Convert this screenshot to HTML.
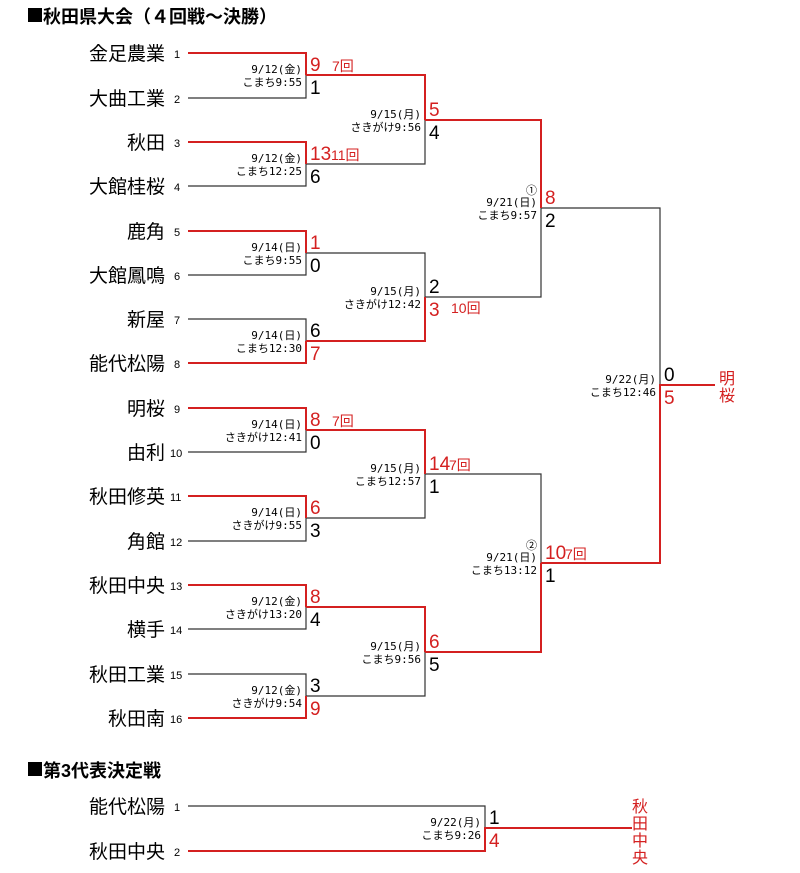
<!DOCTYPE html>
<html><head><meta charset="utf-8"><style>
body{margin:0;background:#fff;}
svg{display:block;font-family:"Liberation Sans","Noto Sans CJK JP",sans-serif;}
.tm{font-size:19px;text-anchor:end;fill:#000}
.no{font-size:11px;fill:#000}
.dt{font-size:11px;text-anchor:end;fill:#000;font-family:"DejaVu Sans Mono","Noto Sans CJK JP",monospace}
.s{font-size:19px;fill:#000}
.r{fill:#d42020}
.inn{font-size:14px;fill:#d42020}
.b{stroke:#333;stroke-width:1.2;fill:none}
.rd{stroke:#d42020;stroke-width:2;fill:none}
.h{font-size:18px;font-weight:bold;fill:#000}
</style></head><body>
<svg width="800" height="873" viewBox="0 0 800 873">
<rect x="28" y="8" width="14" height="14" fill="#000"/>
<text x="43" y="23" class="h">秋田県大会（４回戦～決勝）</text>
<g>
<text x="165" y="60" class="tm">金足農業</text><text x="174" y="58" class="no">1</text>
<text x="165" y="105" class="tm">大曲工業</text><text x="174" y="103" class="no">2</text>
<text x="165" y="149" class="tm">秋田</text><text x="174" y="147" class="no">3</text>
<text x="165" y="193" class="tm">大館桂桜</text><text x="174" y="191" class="no">4</text>
<text x="165" y="238" class="tm">鹿角</text><text x="174" y="236" class="no">5</text>
<text x="165" y="282" class="tm">大館鳳鳴</text><text x="174" y="280" class="no">6</text>
<text x="165" y="326" class="tm">新屋</text><text x="174" y="324" class="no">7</text>
<text x="165" y="370" class="tm">能代松陽</text><text x="174" y="368" class="no">8</text>
<text x="165" y="415" class="tm">明桜</text><text x="174" y="413" class="no">9</text>
<text x="165" y="459" class="tm">由利</text><text x="170" y="457" class="no">10</text>
<text x="165" y="503" class="tm">秋田修英</text><text x="170" y="501" class="no">11</text>
<text x="165" y="548" class="tm">角館</text><text x="170" y="546" class="no">12</text>
<text x="165" y="592" class="tm">秋田中央</text><text x="170" y="590" class="no">13</text>
<text x="165" y="636" class="tm">横手</text><text x="170" y="634" class="no">14</text>
<text x="165" y="681" class="tm">秋田工業</text><text x="170" y="679" class="no">15</text>
<text x="165" y="725" class="tm">秋田南</text><text x="170" y="723" class="no">16</text>
</g>
<path class="b" d="M188 98H306V75 M188 186H306V164 M188 275H306V253 M188 319H306V341 M188 452H306V430 M188 541H306V518 M188 629H306V607 M188 674H306V696
M306 164H425V120 M306 253H425V297 M306 518H425V474 M306 696H425V652
M425 297H541V208 M425 474H541V563 M541 208H660V385"/>
<path class="rd" d="M188 53H306V75 M188 142H306V164 M188 231H306V253 M188 363H306V341 M188 408H306V430 M188 496H306V518 M188 585H306V607 M188 718H306V696
M306 75H425V120 M306 341H425V297 M306 430H425V474 M306 607H425V652
M425 120H541V208 M425 652H541V563 M541 563H660V385H715"/>
<text x="302" y="73" class="dt">9/12(金)</text><text x="302" y="86" class="dt">こまち9:55</text>
<text x="310" y="71" class="s r">9</text><text x="332" y="71" class="inn">7回</text><text x="310" y="94" class="s">1</text>
<text x="302" y="162" class="dt">9/12(金)</text><text x="302" y="175" class="dt">こまち12:25</text>
<text x="310" y="160" class="s r">13</text><text x="331" y="160" class="inn">11回</text><text x="310" y="183" class="s">6</text>
<text x="302" y="251" class="dt">9/14(日)</text><text x="302" y="264" class="dt">こまち9:55</text>
<text x="310" y="249" class="s r">1</text><text x="310" y="272" class="s">0</text>
<text x="302" y="339" class="dt">9/14(日)</text><text x="302" y="352" class="dt">こまち12:30</text>
<text x="310" y="337" class="s">6</text><text x="310" y="360" class="s r">7</text>
<text x="302" y="428" class="dt">9/14(日)</text><text x="302" y="441" class="dt">さきがけ12:41</text>
<text x="310" y="426" class="s r">8</text><text x="332" y="426" class="inn">7回</text><text x="310" y="449" class="s">0</text>
<text x="302" y="516" class="dt">9/14(日)</text><text x="302" y="529" class="dt">さきがけ9:55</text>
<text x="310" y="514" class="s r">6</text><text x="310" y="537" class="s">3</text>
<text x="302" y="605" class="dt">9/12(金)</text><text x="302" y="618" class="dt">さきがけ13:20</text>
<text x="310" y="603" class="s r">8</text><text x="310" y="626" class="s">4</text>
<text x="302" y="694" class="dt">9/12(金)</text><text x="302" y="707" class="dt">さきがけ9:54</text>
<text x="310" y="692" class="s">3</text><text x="310" y="715" class="s r">9</text>
<text x="421" y="118" class="dt">9/15(月)</text><text x="421" y="131" class="dt">さきがけ9:56</text>
<text x="429" y="116" class="s r">5</text><text x="429" y="139" class="s">4</text>
<text x="421" y="295" class="dt">9/15(月)</text><text x="421" y="308" class="dt">さきがけ12:42</text>
<text x="429" y="293" class="s">2</text><text x="429" y="316" class="s r">3</text><text x="451" y="313" class="inn">10回</text>
<text x="421" y="472" class="dt">9/15(月)</text><text x="421" y="485" class="dt">こまち12:57</text>
<text x="429" y="470" class="s r">14</text><text x="449" y="470" class="inn">7回</text><text x="429" y="493" class="s">1</text>
<text x="421" y="650" class="dt">9/15(月)</text><text x="421" y="663" class="dt">こまち9:56</text>
<text x="429" y="648" class="s r">6</text><text x="429" y="671" class="s">5</text>
<text x="537" y="194" class="dt">①</text>
<text x="537" y="206" class="dt">9/21(日)</text><text x="537" y="219" class="dt">こまち9:57</text>
<text x="545" y="204" class="s r">8</text><text x="545" y="227" class="s">2</text>
<text x="537" y="549" class="dt">②</text>
<text x="537" y="561" class="dt">9/21(日)</text><text x="537" y="574" class="dt">こまち13:12</text>
<text x="545" y="559" class="s r">10</text><text x="565" y="559" class="inn">7回</text><text x="545" y="582" class="s">1</text>
<text x="656" y="383" class="dt">9/22(月)</text><text x="656" y="396" class="dt">こまち12:46</text>
<text x="664" y="381" class="s">0</text><text x="664" y="404" class="s r">5</text>
<text x="719" y="384" style="font-size:16px" class="r">明</text>
<text x="719" y="401" style="font-size:16px" class="r">桜</text>
<rect x="28" y="762" width="14" height="14" fill="#000"/>
<text x="43" y="777" class="h">第3代表決定戦</text>
<text x="165" y="813" class="tm">能代松陽</text><text x="174" y="811" class="no">1</text>
<text x="165" y="858" class="tm">秋田中央</text><text x="174" y="856" class="no">2</text>
<path class="b" d="M188 806H485V828"/>
<path class="rd" d="M188 851H485V828H632"/>
<text x="481" y="826" class="dt">9/22(月)</text><text x="481" y="839" class="dt">こまち9:26</text>
<text x="489" y="824" class="s">1</text><text x="489" y="847" class="s r">4</text>
<text x="632" y="812" style="font-size:16px" class="r">秋</text>
<text x="632" y="829" style="font-size:16px" class="r">田</text>
<text x="632" y="846" style="font-size:16px" class="r">中</text>
<text x="632" y="863" style="font-size:16px" class="r">央</text>
</svg>
</body></html>
